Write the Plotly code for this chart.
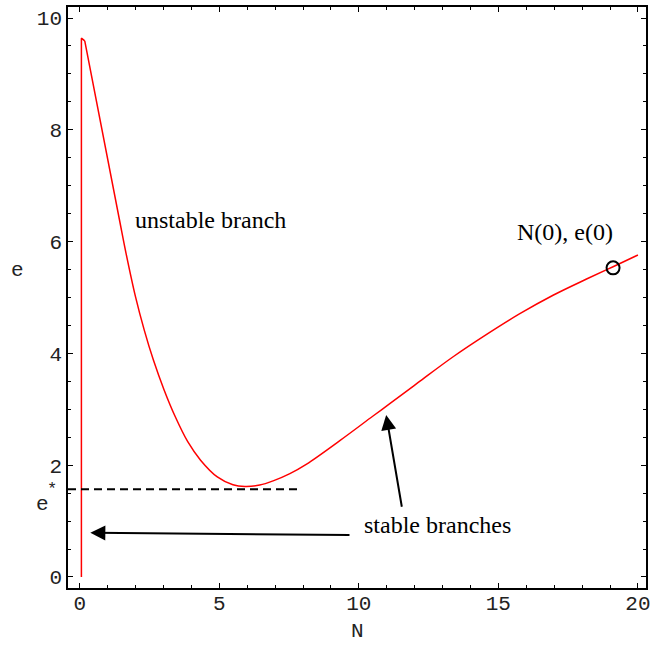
import plotly.graph_objects as go

# ---- data ----
# initial vertical rise and the small notch at the top
n_start = [0.06, 0.06, 0.18]
e_start = [0.00, 9.64, 9.59]

# main curve (unstable branch -> minimum -> stable branch)
n_curve = [0.18, 1.42, 1.66, 2.00, 2.31, 2.64, 3.02, 3.42, 3.87, 4.33, 4.93, 5.49, 5.92,
           6.45, 6.93, 7.53, 8.13, 9.32, 10.51, 11.11, 12.13, 13.38, 14.58, 15.77,
           16.96, 18.16, 19.11, 20.0]
e_curve = [9.59, 6.40, 5.79, 5.01, 4.42, 3.88, 3.35, 2.87, 2.42, 2.09, 1.79, 1.65, 1.62,
           1.645, 1.72, 1.85, 2.02, 2.44, 2.88, 3.10, 3.48, 3.94, 4.34, 4.71,
           5.04, 5.33, 5.55, 5.76]

# threshold e*
e_star = 1.57
n_dash = [-0.42, 7.9]

# initial condition
n0, e0 = 19.11, 5.53

# arrows: (tail N, tail e, tip N, tip e)
arrow1 = (9.72, 0.75, 0.38, 0.79)
arrow2 = (11.55, 1.23, 10.98, 2.90)

x_ticks = [0, 5, 10, 15, 20]
y_ticks = [0, 2, 4, 6, 8, 10]

W, H = 653, 646
ML, MR, MT, MB = 68, 7, 7, 58
PW, PH = W - ML - MR, H - MT - MB


def px_to_paper(px, py):
    return (px - ML) / PW, (H - MB - py) / PH


fig = go.Figure()
fig.add_trace(go.Scatter(x=n_start, y=e_start, mode="lines",
                         line=dict(color="#ff0000", width=1.5), hoverinfo="skip"))
fig.add_trace(go.Scatter(x=n_curve, y=e_curve, mode="lines",
                         line=dict(color="#ff0000", width=1.5, shape="spline", smoothing=1.0),
                         hoverinfo="skip"))
fig.add_trace(go.Scatter(x=n_dash, y=[e_star, e_star], mode="lines",
                         line=dict(color="black", width=2, dash="8px,5px"), hoverinfo="skip"))
fig.add_trace(go.Scatter(x=[n0], y=[e0], mode="markers",
                         marker=dict(symbol="circle-open", size=13, color="black",
                                     line=dict(width=2, color="black")),
                         hoverinfo="skip"))

tick_font = dict(family="Liberation Mono, Courier New, monospace", size=21, color="#222")
serif = dict(family="Liberation Serif, Times New Roman, serif", size=24, color="black")

axis_common = dict(showline=True, linecolor="black", linewidth=1.5, mirror="ticks",
                   ticks="inside", ticklen=5, tickwidth=1, tickcolor="black",
                   showgrid=False, zeroline=False, tickfont=tick_font, automargin=False)

fig.update_xaxes(range=[-0.42, 20.29], tickvals=x_ticks, ticklabelstandoff=-5,
                 minor=dict(dtick=1, ticks="inside", ticklen=3, tickcolor="black", showgrid=False),
                 **axis_common)
fig.update_yaxes(range=[-0.197, 10.197], tickvals=y_ticks,
                 minor=dict(dtick=0.5, ticks="inside", ticklen=3, tickcolor="black", showgrid=False),
                 **axis_common)

annotations = []
for (tx, ty, hx, hy) in (arrow1, arrow2):
    annotations.append(dict(x=hx, y=hy, ax=tx, ay=ty, xref="x", yref="y", axref="x", ayref="y",
                            showarrow=True, arrowhead=2, arrowsize=1.5, arrowwidth=2,
                            arrowcolor="black", standoff=0, text=""))

annotations.append(dict(x=1.90, y=6.39, xref="x", yref="y", text="unstable branch",
                        showarrow=False, xanchor="left", yanchor="middle", font=serif))
annotations.append(dict(x=10.12, y=0.93, xref="x", yref="y", text="stable branches",
                        showarrow=False, xanchor="left", yanchor="middle", font=serif))
annotations.append(dict(x=15.61, y=6.18, xref="x", yref="y", text="N(0), e(0)",
                        showarrow=False, xanchor="left", yanchor="middle", font=serif))

label_font = dict(family="Liberation Mono, Courier New, monospace", size=21, color="#222")
for txt, (pxx, pyy) in (("N", (357, 631)), ("e", (17, 270)), ("e", (42, 504))):
    xx, yy = px_to_paper(pxx, pyy)
    annotations.append(dict(x=xx, y=yy, xref="paper", yref="paper", text=txt,
                            showarrow=False, xanchor="center", yanchor="middle", font=label_font))
xx, yy = px_to_paper(52, 489)
annotations.append(dict(x=xx, y=yy, xref="paper", yref="paper", text="*",
                        showarrow=False, xanchor="center", yanchor="middle",
                        font=dict(family="Liberation Mono, Courier New, monospace", size=17, color="#222")))

fig.update_layout(width=W, height=H, margin=dict(l=ML, r=MR, t=MT, b=MB),
                  plot_bgcolor="white", paper_bgcolor="white", showlegend=False,
                  annotations=annotations)

fig.write_html("out.html")
